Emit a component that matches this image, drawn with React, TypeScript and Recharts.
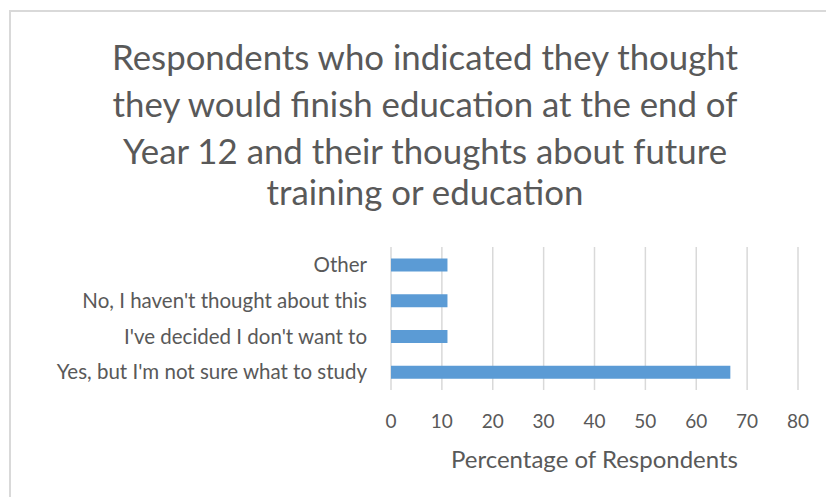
import React from "react";
import { BarChart, Bar, XAxis, YAxis, CartesianGrid } from "recharts";

const categories = [
  "Other",
  "No, I haven't thought about this",
  "I've decided I don't want to",
  "Yes, but I'm not sure what to study",
];
const percentages = [11.1, 11.1, 11.1, 66.7];
const xTicks = [0, 10, 20, 30, 40, 50, 60, 70, 80];
const titleLines = [
  "Respondents who indicated they thought",
  "they would finish education at the end of",
  "Year 12 and their thoughts about future",
  "training or education",
];
const axisTitle = "Percentage of Respondents";

const data = categories.map((c, i) => ({ name: c, value: percentages[i] }));

const FONT = "Lato, 'Liberation Sans', sans-serif";
const TEXT = "#595959";

export default function App() {
  return (
    <div
      style={{
        position: "absolute",
        left: 0,
        top: 0,
        width: 826,
        height: 497,
        overflow: "hidden",
        background: "#fff",
        fontFamily: FONT,
      }}
    >
      <div
        style={{
          position: "absolute",
          left: 9,
          top: 10,
          width: 830,
          height: 520,
          border: "2px solid #d9d9d9",
          boxSizing: "border-box",
        }}
      />
      {titleLines.map((t, i) => (
        <div
          key={i}
          style={{
            position: "absolute",
            left: 25,
            width: 800,
            top: [57, 104, 151, 192][i] - 22,
            height: 44,
            lineHeight: "44px",
            textAlign: "center",
            fontSize: 34.8,
            color: TEXT,
            whiteSpace: "nowrap",
          }}
        >
          {t}
        </div>
      ))}
      <div style={{ position: "absolute", left: 0, top: 0 }}>
        <BarChart
          width={826}
          height={497}
          data={data}
          layout="vertical"
          margin={{ top: 247, right: 28, left: 0, bottom: 0 }}
          barCategoryGap="32%"
        >
          <CartesianGrid horizontal={false} stroke="#d9d9d9" strokeWidth={1.5} />
          <XAxis
            type="number"
            domain={[0, 80]}
            ticks={xTicks}
            axisLine={false}
            tickLine={false}
            tickSize={0}
            tickMargin={25}
            height={107}
            tick={{ fill: TEXT, fontSize: 19, fontFamily: FONT }}
            label={{
              value: axisTitle,
              position: "insideBottom",
              offset: 29,
              fill: TEXT,
              fontSize: 24,
              fontFamily: FONT,
            }}
          />
          <YAxis
            type="category"
            dataKey="name"
            width={391}
            axisLine={false}
            tickLine={false}
            tickSize={0}
            tickMargin={24}
            interval={0}
            tick={{ fill: TEXT, fontSize: 20.5, fontFamily: FONT }}
          />
          <Bar dataKey="value" fill="#5B9BD5" isAnimationActive={false} />
        </BarChart>
      </div>
    </div>
  );
}
